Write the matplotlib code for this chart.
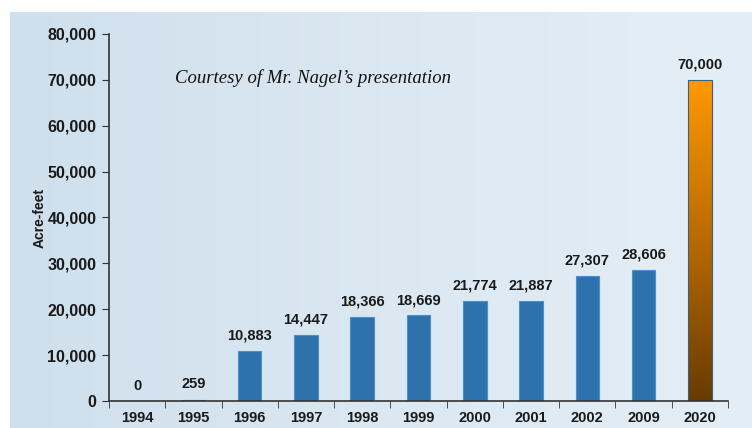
import matplotlib.pyplot as plt
import numpy as np
from matplotlib.colors import LinearSegmentedColormap

# data
years = ['1994', '1995', '1996', '1997', '1998', '1999', '2000', '2001', '2002', '2009', '2020']
acre_feet = [0, 259, 10883, 14447, 18366, 18669, 21774, 21887, 27307, 28606, 70000]
projected = [False] * 10 + [True]

plt.rcParams['font.family'] = ['Liberation Sans', 'DejaVu Sans']

fig = plt.figure(figsize=(7.52, 4.28), dpi=100)

# pale blue backdrop
bg = fig.add_axes([10 / 752, 0, 1 - 10 / 752, 1 - 12 / 428], zorder=0)
grad = np.linspace(0, 1, 256).reshape(1, -1)
bg_cmap = LinearSegmentedColormap.from_list('bg', ['#cfdfec', '#dbe8f2', '#e4eef6'])
bg.imshow(grad, cmap=bg_cmap, aspect='auto', extent=[0, 1, 0, 1])
bg.set_axis_off()

ax = fig.add_axes([109 / 752, 1 - 401 / 428, (728 - 109) / 752, (401 - 34) / 428], zorder=1)
ax.patch.set_alpha(0)

x = np.arange(len(years))
bars = ax.bar(x, acre_feet, width=0.42, color='#2e72ad', edgecolor='#4a8fd0', linewidth=0.8)

# orange gradient for the 2020 target
orange = LinearSegmentedColormap.from_list('org', ['#673b00', '#b86a00', '#ff9a00'])
for i, b in enumerate(bars):
    if projected[i]:
        b.set_facecolor('none')
        b.set_edgecolor('#3a5f80')
        b.set_zorder(2)
        xl = b.get_x()
        im = ax.imshow(np.linspace(0, 1, 256).reshape(-1, 1), cmap=orange, origin='lower',
                       aspect='auto', extent=[xl, xl + b.get_width(), 0, b.get_height()], zorder=1.5)
        im.set_clip_path(b)

for i, v in enumerate(acre_feet):
    ax.annotate(f'{v:,}', (x[i], v), xytext=(0, 6), textcoords='offset points',
                ha='center', va='bottom', fontsize=10.5, fontweight='bold', color='#1a1a1a')

ax.set_xlim(-0.5, len(years) - 0.5)
ax.set_ylim(0, 80000)
ax.set_yticks(range(0, 80001, 10000))
ax.set_yticklabels([f'{t:,}' for t in range(0, 80001, 10000)])
ax.set_xticks(x)
ax.set_xticklabels(years)
ax.set_xticks(np.arange(-0.5, len(years), 1), minor=True)
ax.tick_params(axis='x', which='major', length=0, pad=7)
ax.tick_params(axis='x', which='minor', length=5, direction='out', color='#333333')
ax.tick_params(axis='y', length=5, direction='out', color='#333333', pad=4)
for lab in ax.get_yticklabels():
    lab.set_fontweight('bold')
    lab.set_fontsize(11.5)
    lab.set_color('#1a1a1a')
for lab in ax.get_xticklabels():
    lab.set_fontweight('bold')
    lab.set_fontsize(10.5)
    lab.set_color('#1a1a1a')

for s in ['top', 'right']:
    ax.spines[s].set_visible(False)
for s in ['left', 'bottom']:
    ax.spines[s].set_color('#333333')
    ax.spines[s].set_linewidth(1.2)

ax.set_ylabel('Acre-feet', fontsize=10, fontweight='bold', color='#1a1a1a')
ax.yaxis.set_label_coords(-0.1, 0.5)

fig.text(175 / 752, 1 - 78 / 428, 'Courtesy of Mr. Nagel\u2019s presentation',
         family='Liberation Serif', style='italic', fontsize=13.5, va='center', color='#111111')

plt.savefig('out.png', dpi=100)
